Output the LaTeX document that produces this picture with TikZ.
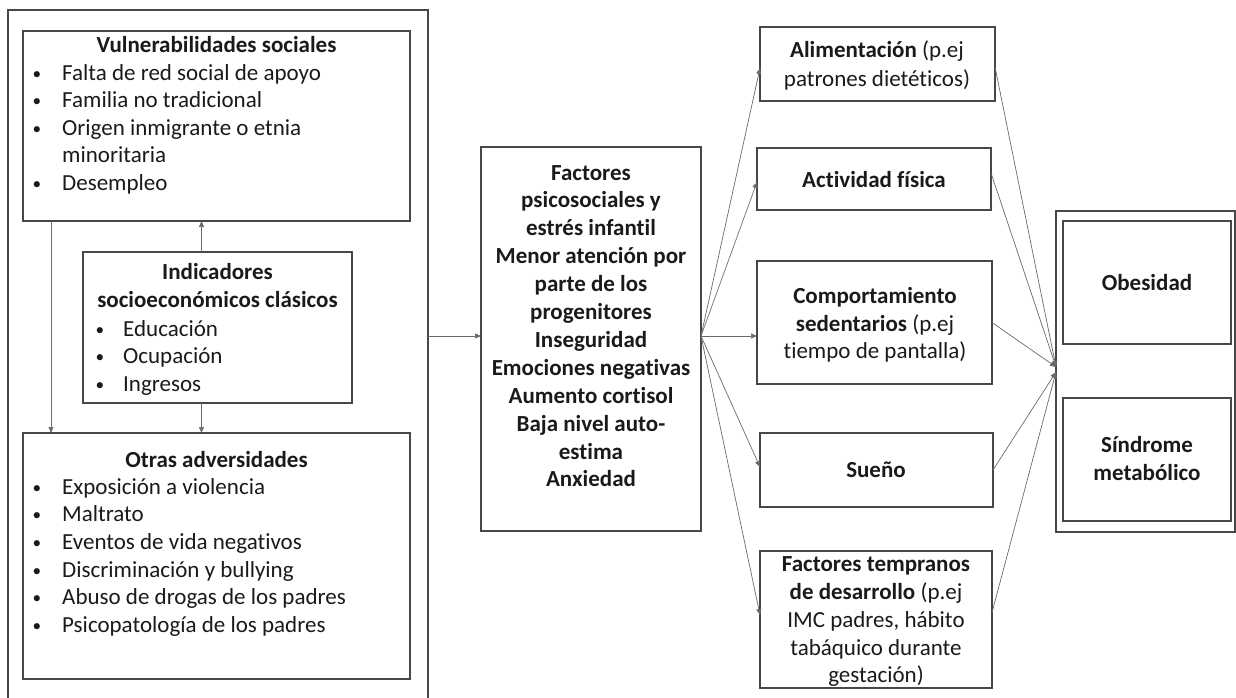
\documentclass[tikz,border=0pt]{standalone}
\usepackage{fontspec}
\setmainfont{Carlito}[Ligatures={NoCommon}]
\usetikzlibrary{arrows.meta,calc}
\definecolor{boxc}{HTML}{474747}
\definecolor{arrc}{HTML}{6A6A6A}
\definecolor{txtc}{HTML}{1A1A1A}
\newcommand\smbul{\raisebox{0.9pt}{\scalebox{0.75}{\textbullet}}}
\newcommand\bitem[5]{\node[bul] (#1b) at (#2,#4) {\smbul}; \node[ln] (#1) at (#3,#4) {#5};}
\begin{document}
\begin{tikzpicture}[x=1pt,y=-1pt,
  box/.style={draw=boxc, line width=1.2pt, inner sep=0pt, outer sep=0pt, anchor=north west},
  arr/.style={draw=arrc, line width=0.7pt, -{Triangle[length=6pt,width=5pt]}},
  ln/.style={anchor=base west, inner sep=0pt, text=txtc},
  cl/.style={anchor=base, inner sep=0pt, text=txtc},
  bul/.style={anchor=base, inner sep=0pt, text=txtc},
  font=\fontsize{23}{27.5}\selectfont]
\useasboundingbox (0,0) rectangle (1236,698);
\clip (0,0) rectangle (1236,698);
% boxes
\node[box, minimum width=420pt, minimum height=700pt] (outer) at (8,10) {};
\node[box, minimum width=387pt, minimum height=190pt] (vul) at (23,31) {};
\node[box, minimum width=269pt, minimum height=151pt] (ind) at (83,252) {};
\node[box, minimum width=387pt, minimum height=246pt] (otr) at (23,433) {};
\node[box, minimum width=220pt, minimum height=384pt] (mid) at (481,147) {};
\node[box, minimum width=235pt, minimum height=74pt] (ali) at (760,27) {};
\node[box, minimum width=234pt, minimum height=62pt] (act) at (757,148) {};
\node[box, minimum width=235pt, minimum height=123pt] (com) at (757,261) {};
\node[box, minimum width=233pt, minimum height=74pt] (sue) at (760,433) {};
\node[box, minimum width=232pt, minimum height=137pt] (fac) at (760,551) {};
\node[box, minimum width=179pt, minimum height=321pt] (res) at (1056,211) {};
\node[box, minimum width=168pt, minimum height=123pt] (obe) at (1063,221) {};
\node[box, minimum width=168pt, minimum height=123pt] (sin) at (1063,398) {};
% Vulnerabilidades
\node[cl] (vt) at (216.5,53) {\textbf{Vulnerabilidades sociales}};
\bitem{v1}{37}{62}{80.4}{Falta de red social de apoyo}
\bitem{v2}{37}{62}{107.8}{Familia no tradicional}
\bitem{v3}{37}{62}{135.2}{Origen inmigrante o etnia}
\node[ln] (v3b2) at (62,162.6) {minoritaria};
\bitem{v4}{37}{62}{190}{Desempleo}
% Indicadores
\node[cl] (it1) at (217.5,279) {\textbf{Indicadores}};
\node[cl] (it2) at (217.5,307) {\textbf{socioeconómicos clásicos}};
\bitem{i1}{100}{123}{336}{Educación}
\bitem{i2}{100}{123}{363.5}{Ocupación}
\bitem{i3}{100}{123}{391}{Ingresos}
% Otras
\node[cl] (ot) at (216.5,467) {\textbf{Otras adversidades}};
\bitem{o1}{37}{62}{494}{Exposición a violencia}
\bitem{o2}{37}{62}{521.7}{Maltrato}
\bitem{o3}{37}{62}{549.4}{Eventos de vida negativos}
\bitem{o4}{37}{62}{577.1}{Discriminación y bullying}
\bitem{o5}{37}{62}{604.8}{Abuso de drogas de los padres}
\bitem{o6}{37}{62}{632.5}{Psicopatología de los padres}
% middle
\foreach \t [count=\i from 0] in {Factores, psicosociales y, estrés infantil, Menor atención por, parte de los, progenitores, Inseguridad, Emociones negativas, Aumento cortisol, Baja nivel auto-, estima, Anxiedad}
  \node[cl] (m\i) at (591,{180+27.9*\i}) {\textbf{\t}};
% right column
\node[cl] (a1) at (877,58) {\textbf{Alimentación} (p.ej};
\node[cl] (a2) at (877,86.5) {patrones dietéticos)};
\node[cl] (b1) at (874,187) {\textbf{Actividad física}};
\node[cl] (c1t) at (875,303) {\textbf{Comportamiento}};
\node[cl] (c2t) at (875,331) {\textbf{sedentarios} (p.ej};
\node[cl] (c3t) at (875,358.5) {tiempo de pantalla)};
\node[cl] (s1) at (876,477) {\textbf{Sueño}};
\node[cl] (f1) at (876,571) {\textbf{Factores tempranos}};
\node[cl] (f2) at (876,599) {\textbf{de desarrollo} (p.ej};
\node[cl] (f3) at (876,627) {IMC padres, hábito};
\node[cl] (f4) at (876,655) {tabáquico durante};
\node[cl] (f5) at (876,682) {gestación)};
\node[cl] (ob) at (1147,290) {\textbf{Obesidad}};
\node[cl] (sm1) at (1147,452) {\textbf{Síndrome}};
\node[cl] (sm2) at (1147,480) {\textbf{metabólico}};
% connectors left
\coordinate (ua) at ([xshift=-16pt]ind.north);
\coordinate (da) at ([xshift=-16pt]ind.south);
\coordinate (la) at ([xshift=28pt]vul.south west);
\draw[arr] (ua) -- (ua |- vul.south);
\draw[arr] (da) -- (da |- otr.north);
\draw[arr] (la) -- (la |- otr.north);
% connectors middle
\coordinate (fan) at ([yshift=3pt]mid.east);
\coordinate (inp) at ([yshift=3pt]mid.west);
\draw[arr] (outer.east |- inp) -- (inp);
\draw[arr] (fan) -- ([yshift=-4pt]ali.west);
\draw[arr] (fan) -- ([yshift=-3pt]act.west);
\draw[arr] (fan) -- (com.west |- fan);
\draw[arr] (fan) -- ([yshift=3pt]sue.west);
\draw[arr] (fan) -- ([yshift=4.5pt]fac.west);
% connectors right
\coordinate (k1) at ([yshift=4.5pt]res.west);
\coordinate (k2) at ([yshift=-0.5pt]res.west);
\draw[arr] ([yshift=-3pt]ali.east) -- (k1);
\draw[arr] ([yshift=6pt]act.east) -- (k1);
\draw[arr] (com.east) -- (k1);
\draw[arr] (sue.east) -- (k2);
\draw[arr] ([yshift=7pt]fac.east) -- (k2);
\end{tikzpicture}
\end{document}
